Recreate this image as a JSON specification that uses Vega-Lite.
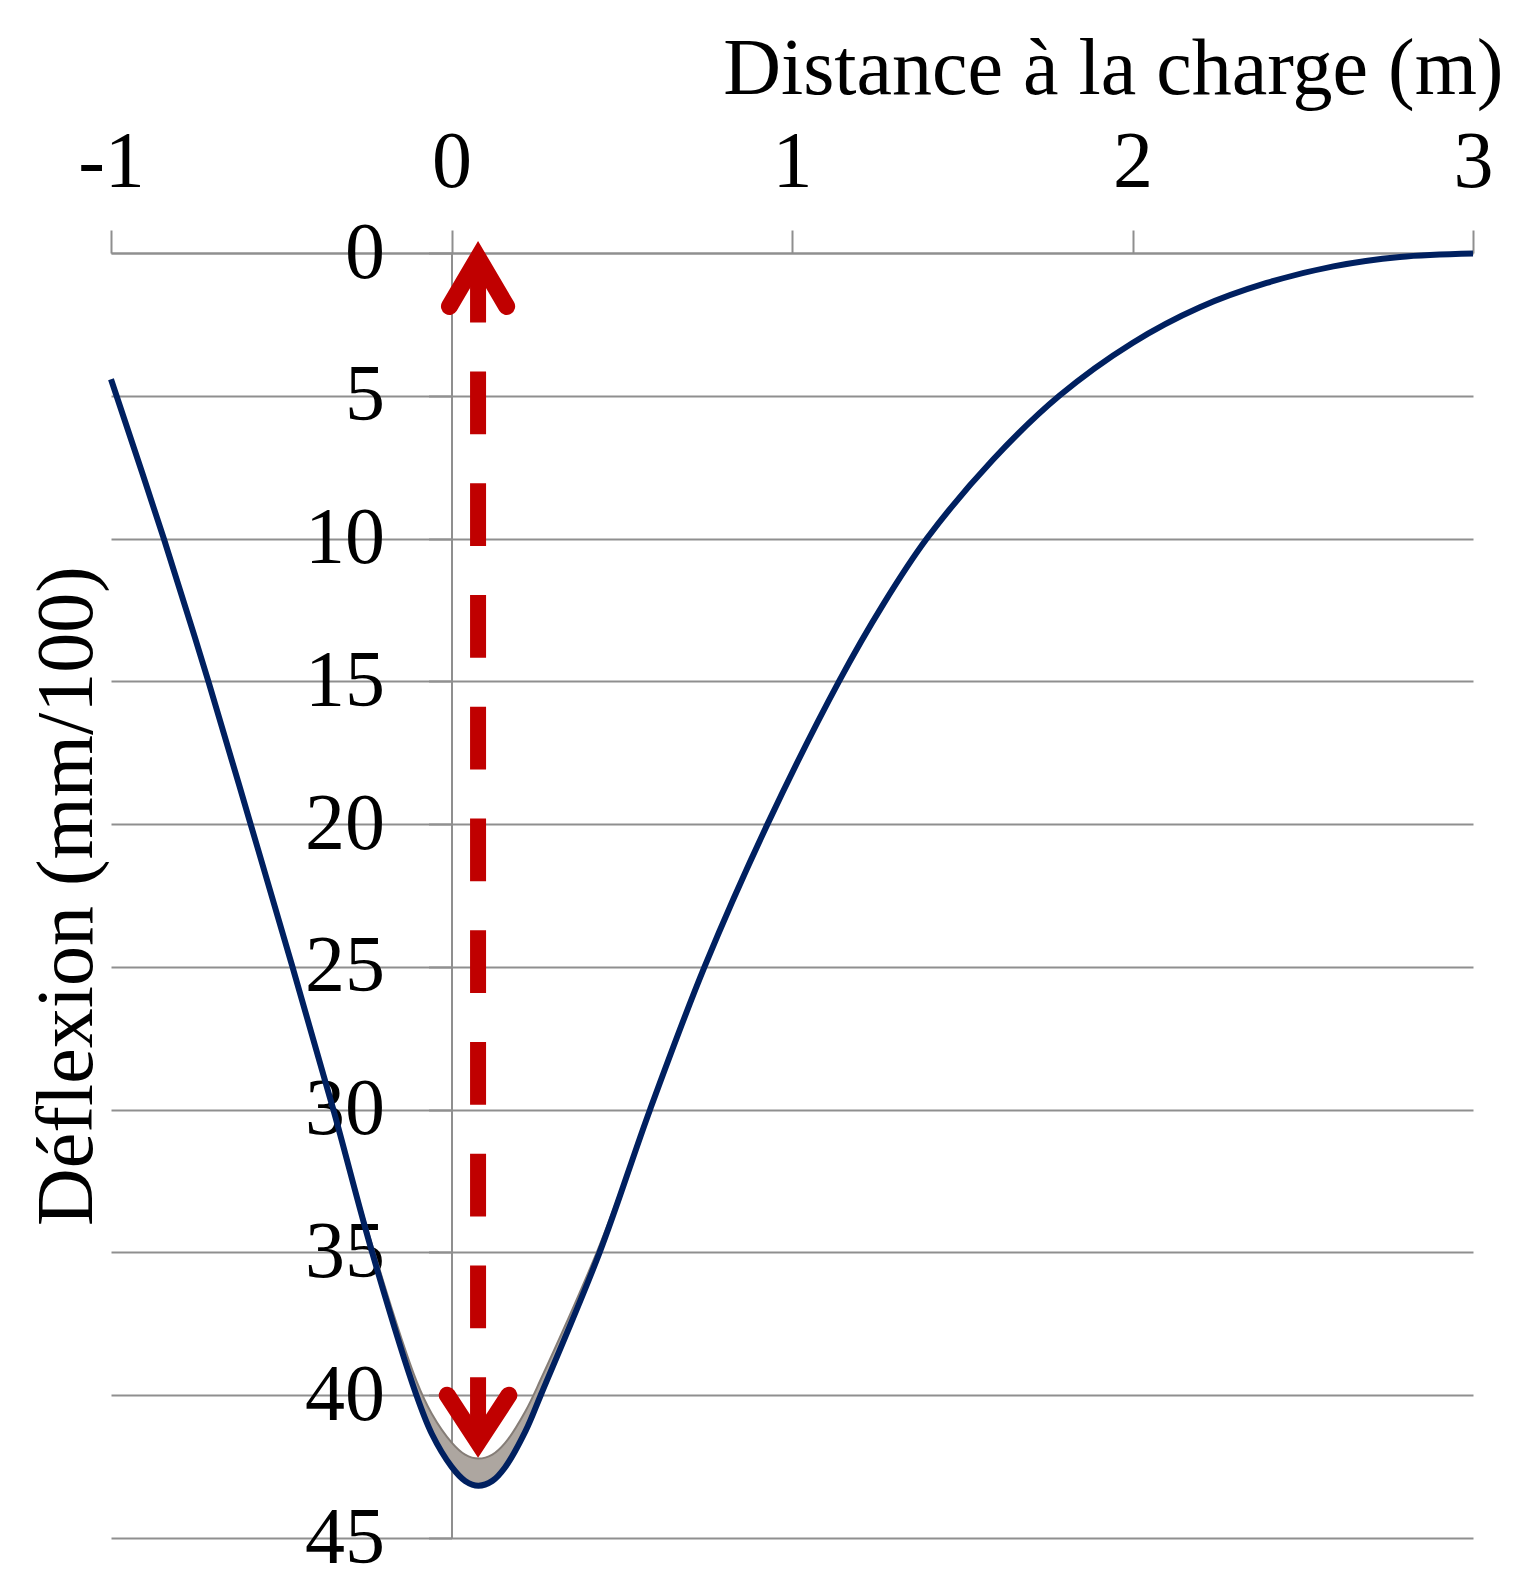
{
  "$schema": "https://vega.github.io/schema/vega-lite/v6.json",
  "width": 1362,
  "height": 1285,
  "autosize": {"type": "none"},
  "padding": {"left": 111, "top": 253, "right": 40, "bottom": 41},
  "background": "white",
  "config": {
    "view": {"stroke": null},
    "font": "Liberation Serif"
  },
  "datasets": {
    "navy": [
      {"x": -1.0, "y": 4.42}, {"x": -0.845, "y": 10}, {"x": -0.714, "y": 15}, {"x": -0.59, "y": 20},
      {"x": -0.467, "y": 25}, {"x": -0.347, "y": 30}, {"x": -0.233, "y": 35}, {"x": -0.103, "y": 40},
      {"x": -0.058, "y": 41.35}, {"x": 0.0, "y": 42.5}, {"x": 0.04, "y": 43.0}, {"x": 0.079, "y": 43.17},
      {"x": 0.12, "y": 43.0}, {"x": 0.157, "y": 42.53}, {"x": 0.218, "y": 41.24}, {"x": 0.262, "y": 40},
      {"x": 0.435, "y": 35}, {"x": 0.583, "y": 30}, {"x": 0.743, "y": 25}, {"x": 0.928, "y": 20},
      {"x": 1.138, "y": 15}, {"x": 1.267, "y": 12.32}, {"x": 1.396, "y": 10}, {"x": 1.59, "y": 7.24},
      {"x": 1.785, "y": 5}, {"x": 2.0, "y": 3.15},
      {"x": 2.198, "y": 1.9}, {"x": 2.394, "y": 1.05}, {"x": 2.59, "y": 0.47}, {"x": 2.785, "y": 0.14},
      {"x": 3.0, "y": 0.02}
    ],
    "band": [
      {"x": -0.347, "top": 29.9, "bot": 30}, {"x": -0.233, "top": 34.75, "bot": 35},
      {"x": -0.103, "top": 39.5, "bot": 40}, {"x": -0.058, "top": 40.65, "bot": 41.35},
      {"x": 0.0, "top": 41.65, "bot": 42.5}, {"x": 0.04, "top": 42.08, "bot": 43.0},
      {"x": 0.079, "top": 42.22, "bot": 43.17}, {"x": 0.12, "top": 42.08, "bot": 43.0},
      {"x": 0.157, "top": 41.68, "bot": 42.53}, {"x": 0.218, "top": 40.54, "bot": 41.24},
      {"x": 0.262, "top": 39.45, "bot": 40}, {"x": 0.435, "top": 34.75, "bot": 35},
      {"x": 0.583, "top": 29.9, "bot": 30}
    ],
    "shaft": [{"x": 0.078, "y": 0.233, "y2": 41.62}],
    "heads": [
      {"a": "top", "o": 1, "x": -0.006, "y": 1.87},
      {"a": "top", "o": 2, "x": 0.078, "y": 0.165},
      {"a": "top", "o": 3, "x": 0.162, "y": 1.87},
      {"a": "bot", "o": 1, "x": -0.0125, "y": 40.0},
      {"a": "bot", "o": 2, "x": 0.078, "y": 41.65},
      {"a": "bot", "o": 3, "x": 0.1685, "y": 40.0}
    ]
  },
  "encoding": {
    "x": {
      "field": "x", "type": "quantitative",
      "scale": {"domain": [-1, 3], "nice": false, "zero": false},
      "axis": {
        "orient": "top", "values": [-1, 0, 1, 2, 3], "grid": false,
        "domain": true, "domainColor": "#8f8f8f", "domainWidth": 2,
        "ticks": true, "tickSize": 23, "tickColor": "#8f8f8f", "tickWidth": 2,
        "labelFont": "Liberation Serif", "labelFontSize": 80, "labelColor": "#000000",
        "labelExpr": "datum.value < 0 ? '-' + format(abs(datum.value), 'd') : format(datum.value, 'd')",
        "labelPadding": 44, "labelBaseline": "alphabetic", "labelFlush": false, "labelOverlap": false,
        "title": "Distance à la charge (m)", "titleFont": "Liberation Serif", "titleFontSize": 80,
        "titleFontWeight": "normal", "titleColor": "#000000", "titleAlign": "right",
        "titleBaseline": "alphabetic", "titleX": 1392, "titleY": -160
      }
    },
    "y": {
      "field": "y", "type": "quantitative",
      "scale": {"domain": [0, 45], "nice": false, "zero": false, "reverse": true},
      "axis": {
        "orient": "left", "offset": -340.5, "values": [0, 5, 10, 15, 20, 25, 30, 35, 40, 45],
        "grid": true, "gridColor": "#8f8f8f", "gridWidth": 2,
        "domain": true, "domainColor": "#8f8f8f", "domainWidth": 2,
        "ticks": true, "tickSize": 23, "tickColor": "#8f8f8f", "tickWidth": 2,
        "labelFont": "Liberation Serif", "labelFontSize": 80, "labelColor": "#000000",
        "labelPadding": 44, "labelBaseline": "middle", "labelAlign": "right",
        "labelFlush": false, "labelOverlap": false,
        "title": "Déflexion (mm/100)", "titleFont": "Liberation Serif", "titleFontSize": 80,
        "titleFontWeight": "normal", "titleColor": "#000000", "titleAngle": 270,
        "titleAlign": "center", "titleBaseline": "alphabetic", "titleX": -360.5, "titleY": 642.5
      }
    }
  },
  "layer": [
    {
      "data": {"name": "band"},
      "mark": {"type": "area", "interpolate": "catmull-rom", "color": "#ada6a0"},
      "encoding": {
        "y": {"field": "top", "type": "quantitative", "scale": {"domain": [0, 45], "nice": false, "zero": false, "reverse": true}},
        "y2": {"field": "bot"}
      }
    },
    {
      "data": {"name": "band"},
      "mark": {"type": "line", "interpolate": "catmull-rom", "color": "#857d77", "strokeWidth": 2},
      "encoding": {
        "y": {"field": "top", "type": "quantitative", "scale": {"domain": [0, 45], "nice": false, "zero": false, "reverse": true}}
      }
    },
    {
      "data": {"name": "navy"},
      "mark": {"type": "line", "interpolate": "catmull-rom", "color": "#002060", "strokeWidth": 6}
    },
    {
      "data": {"name": "shaft"},
      "mark": {"type": "rule", "color": "#c00000", "strokeWidth": 16, "strokeDash": [62.75, 49], "strokeCap": "butt"},
      "encoding": {
        "y2": {"field": "y2"}
      }
    },
    {
      "data": {"name": "heads"},
      "mark": {"type": "line", "color": "#c00000", "strokeWidth": 17, "strokeCap": "round", "strokeJoin": "miter", "strokeMiterLimit": 10},
      "encoding": {
        "detail": {"field": "a", "type": "nominal"},
        "order": {"field": "o", "type": "quantitative"}
      }
    }
  ]
}
